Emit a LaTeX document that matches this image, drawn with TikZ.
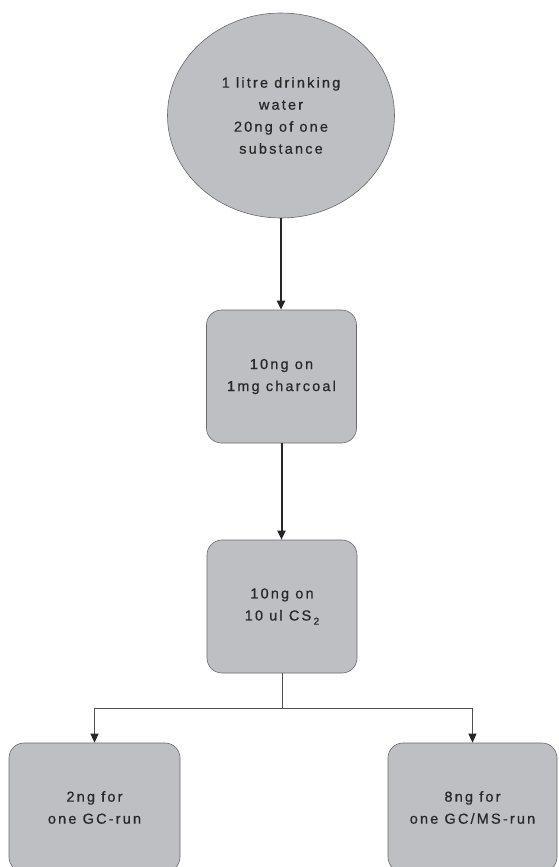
\documentclass[tikz,border=0pt]{standalone}
\usepackage{fontspec}
\setmainfont{Liberation Sans}[LetterSpace=15,FakeBold=0.6]
\usetikzlibrary{shapes.geometric,arrows.meta}
\definecolor{boxfill}{RGB}{190,191,195}
\definecolor{boxline}{RGB}{105,105,108}
\definecolor{txt}{RGB}{40,40,40}
\definecolor{thinln}{RGB}{80,80,80}
\begin{document}
\begin{tikzpicture}[x=1pt,y=-1pt,
  lbl/.style={align=center, text=txt, font=\fontsize{14.5}{22}\selectfont},
  blob/.style={lbl, ellipse, draw=boxline, fill=boxfill, line width=0.6pt,
    minimum width=227pt, minimum height=205pt, inner sep=0pt},
  proc/.style={lbl, rectangle, draw=boxline, fill=boxfill, line width=0.6pt,
    rounded corners=15pt, minimum width=150pt, minimum height=133pt, inner sep=0pt},
  thickarrow/.style={line width=2pt, draw=black!85, -{Triangle[width=8pt,length=9pt]}},
  thinline/.style={line width=0.9pt, draw=thinln},
  thinarrow/.style={thinline, -{Triangle[width=8pt,length=9pt,fill=black!85,color=black!85]}}]
\useasboundingbox (0,0) rectangle (559,867);
\clip (0,0) rectangle (559,867);
\node[blob] (src) at (281,115.5) {1 litre drinking\\water\\20ng of one\\substance};
\node[proc] (char) at (281.5,376.5) {10ng on\\1mg charcoal};
\node[proc] (cs) at (282,606.5) {10ng on\\10 ul CS\,\raisebox{-0.55ex}{\fontsize{10}{10}\selectfont 2}};
\node[proc, minimum width=171pt, minimum height=129pt] (gc) at (94.5,807.5) {2ng for\\one GC-run};
\node[proc, minimum width=169pt, minimum height=129pt] (ms) at (472.5,807.5) {8ng for\\one GC/MS-run};
\coordinate (split) at (282,708);
\draw[thickarrow] (src.south) -- (src.south |- char.north);
\draw[thickarrow] (char.south) -- (char.south |- cs.north);
\draw[thinline] (cs.south) -- (split);
\draw[thinarrow] (split) -| (gc.north);
\draw[thinarrow] (split) -| (ms.north);
\end{tikzpicture}
\end{document}
